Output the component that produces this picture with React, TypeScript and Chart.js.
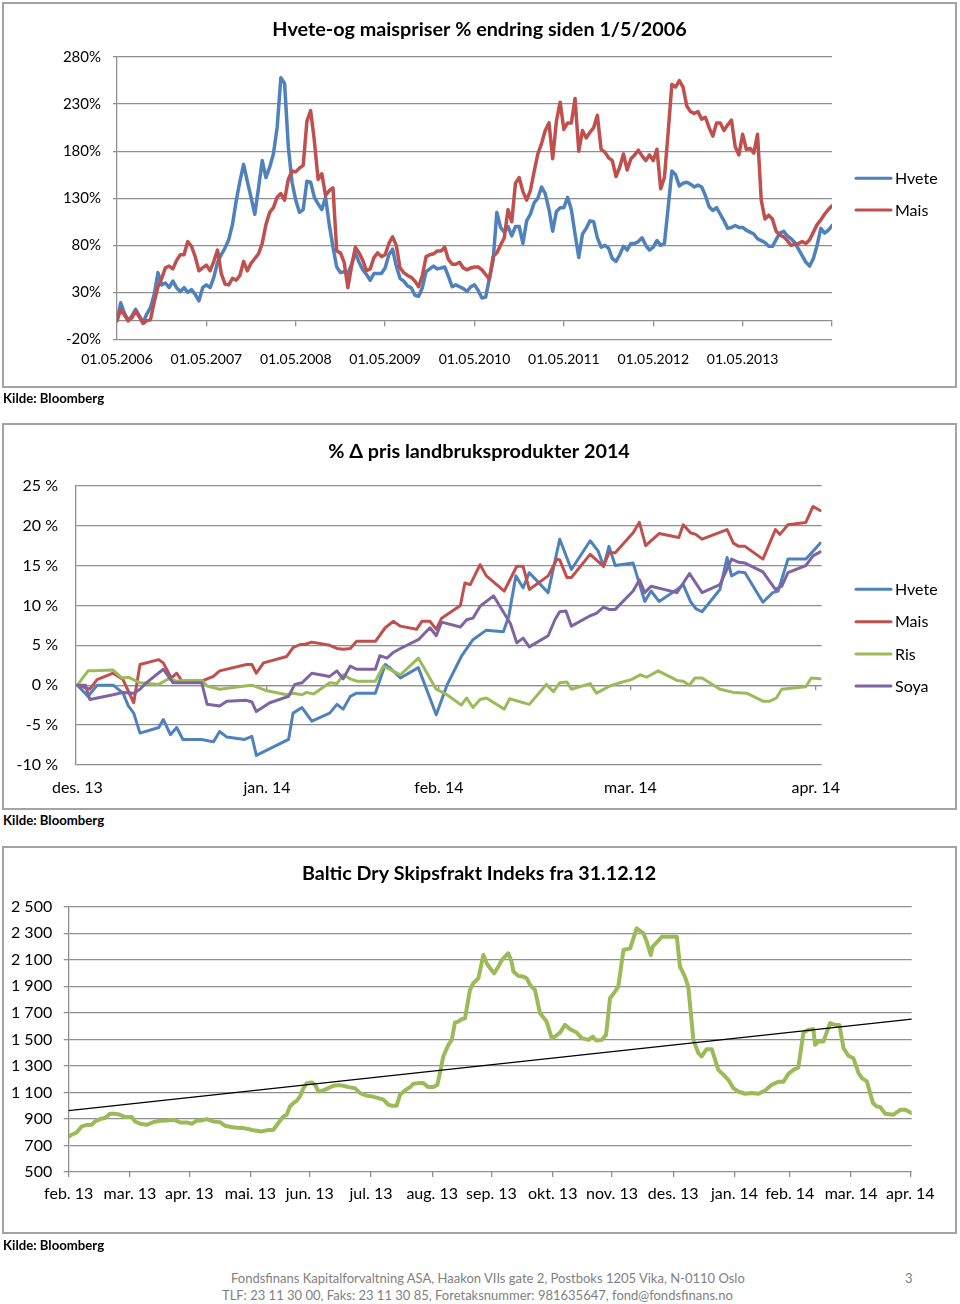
import React, { useEffect, useRef } from 'react';
import { Chart, registerables } from 'chart.js';

Chart.register(...registerables);

const FONT = 'Lato, "Open Sans", "DejaVu Sans", sans-serif';
const GRID = '#8f8f8f';
const BLUE = '#4F81BD';
const RED = '#C0504D';
const GREEN = '#9BBB59';
const PURPLE = '#8064A2';

// ---------- Chart 1: Hvete- og maispriser (% endring siden 1/5/2006), half-month steps ----------
const priceTitle = 'Hvete-og maispriser % endring siden 1/5/2006';
const priceYearLabels = ['01.05.2006', '01.05.2007', '01.05.2008', '01.05.2009', '01.05.2010', '01.05.2011', '01.05.2012', '01.05.2013', ''];
const priceYearMonths = [0, 12, 24, 36, 48, 60, 72, 84, 96];
const priceYTicks = [-20, 30, 80, 130, 180, 230, 280];
const priceStepMonths = 0.5;
const hvetePct = [
  0, 19, 8, 0, 5, 12, 5, -2, 7, 14, 28, 51, 38, 40, 35, 42, 35, 31, 35, 30, 33, 28, 21, 35,
  38, 35, 46, 62, 70, 77, 86, 102, 127, 148, 166, 148, 131, 113, 141, 170, 152, 163, 177, 205, 258, 252, 185, 147,
  128, 115, 118, 148, 147, 131, 124, 118, 131, 102, 78, 57, 51, 52, 50, 60, 72, 62, 54, 49, 43, 50, 50, 50,
  56, 70, 76, 58, 45, 42, 37, 35, 27, 26, 35, 52, 55, 58, 55, 56, 57, 47, 36, 38, 36, 34, 31, 36,
  38, 32, 24, 25, 45, 64, 115, 99, 94, 100, 90, 100, 100, 82, 106, 113, 125, 130, 142, 135, 118, 95, 116, 120,
  120, 131, 118, 92, 67, 92, 98, 106, 105, 88, 78, 80, 77, 66, 63, 70, 79, 75, 82, 82, 84, 88, 80, 75,
  78, 85, 80, 82, 120, 159, 155, 143, 146, 147, 145, 142, 144, 142, 133, 121, 117, 120, 113, 106, 98, 99, 101, 99,
  99, 96, 94, 92, 87, 85, 83, 79, 79, 86, 93, 95, 90, 87, 83, 76, 69, 62, 58, 66, 80, 98, 93, 96, 101,
];
const maisPct = [
  0, 12, 6, 0, 3, 10, 4, -3, 0, 1, 20, 36, 45, 56, 58, 55, 64, 70, 70, 84, 79, 68, 53, 56,
  59, 53, 63, 75, 50, 39, 38, 45, 43, 48, 63, 53, 61, 66, 71, 82, 102, 115, 120, 131, 135, 128, 150, 159,
  158, 162, 165, 212, 223, 191, 150, 156, 133, 138, 141, 74, 72, 62, 35, 58, 78, 72, 64, 53, 55, 67, 72, 68,
  70, 82, 89, 80, 56, 51, 48, 46, 42, 36, 48, 68, 70, 71, 74, 74, 78, 65, 60, 60, 62, 56, 54, 56,
  57, 57, 54, 49, 44, 68, 72, 80, 88, 118, 105, 146, 152, 137, 128, 138, 158, 177, 188, 202, 210, 172, 212, 232,
  203, 210, 210, 236, 180, 202, 194, 200, 205, 218, 182, 179, 173, 170, 153, 163, 177, 160, 172, 176, 181, 175, 170, 176,
  170, 182, 140, 152, 200, 251, 248, 255, 248, 228, 222, 220, 222, 214, 216, 205, 196, 210, 210, 202, 208, 213, 185, 176,
  198, 182, 183, 178, 198, 128, 108, 112, 108, 95, 91, 89, 85, 80, 81, 82, 84, 82, 86, 94, 102, 107, 113, 118, 122,
];

// ---------- Chart 2: % endring pris landbruksprodukter 2014 (x = handelsdag) ----------
const cropTitle = '% \u0394 pris landbruksprodukter 2014';
const cropMonthLabels = ['des. 13', 'jan. 14', 'feb. 14', 'mar. 14', 'apr. 14'];
const cropMonthDays = [0, 21.2, 40.4, 61.8, 82.5];
const cropYTicks = [-10, -5, 0, 5, 10, 15, 20, 25];
const hveteDay = [0, 1.2, 2.2, 4.0, 5.1, 5.7, 6.3, 7.0, 9.1, 9.6, 10.4, 11.1, 11.8, 13.9, 15.2, 15.9, 16.7, 18.7, 19.5, 20.0, 23.6, 24.1, 25.1, 26.2, 28.2, 29.0, 29.7, 30.5, 31.2, 33.3, 34.4, 34.9, 36.1, 38.1, 40.1, 41.3, 42.9, 44.2, 45.7, 47.6, 48.2, 49.0, 49.8, 50.5, 52.6, 53.9, 55.2, 57.3, 58.2, 58.8, 59.4, 60.1, 62.1, 63.4, 64.1, 65.0, 67.0, 67.7, 68.5, 69.1, 69.8, 71.8, 72.6, 73.1, 73.9, 74.6, 76.6, 77.7, 78.3, 79.4, 81.4, 82.2, 83.0];
const hveteChg = [0, -1.4, 0, 0, -1.0, -2.6, -3.5, -6.0, -5.3, -4.3, -6.2, -5.3, -6.8, -6.8, -7.1, -5.8, -6.5, -6.8, -6.4, -8.8, -6.8, -3.5, -2.8, -4.5, -3.5, -2.4, -3.0, -1.4, -1.0, -1.0, 2.6, 2.2, 0.9, 2.2, -3.7, 0, 3.6, 5.7, 6.9, 6.7, 8.6, 13.7, 12.2, 14.1, 11.6, 18.3, 14.5, 18.1, 16.8, 14.9, 17.4, 15.0, 15.3, 10.5, 11.8, 10.5, 12.0, 12.6, 10.5, 9.6, 9.2, 12.0, 16.0, 13.7, 14.2, 14.1, 10.4, 11.6, 11.8, 15.8, 15.8, 16.8, 17.8];
const maisDay = [0, 1.4, 2.2, 4.0, 5.1, 6.3, 7.0, 9.1, 9.6, 10.5, 11.1, 11.7, 13.9, 15.2, 15.9, 18.9, 19.5, 20.0, 20.8, 23.4, 24.1, 24.9, 25.4, 26.2, 28.2, 29.0, 29.7, 30.5, 31.2, 33.3, 34.4, 35.3, 36.1, 37.9, 38.5, 39.4, 40.1, 40.7, 42.8, 43.3, 43.9, 45.0, 45.7, 47.7, 49.1, 49.8, 50.5, 52.6, 53.6, 53.9, 54.7, 55.2, 57.3, 58.8, 59.4, 60.1, 62.1, 62.8, 63.5, 65.0, 67.2, 67.7, 68.5, 69.1, 69.8, 72.6, 73.3, 73.9, 74.6, 76.6, 78.0, 78.5, 79.4, 81.4, 82.2, 83.0];
const maisChg = [0, -0.5, 0.7, 1.5, 0.7, -2.2, 2.6, 3.2, 2.8, 0.9, 1.5, 0.5, 0.5, 1.1, 1.8, 2.6, 2.6, 1.5, 2.8, 3.6, 4.7, 5.1, 5.1, 5.4, 5.0, 4.6, 4.5, 4.6, 5.5, 5.5, 7.2, 8.0, 7.4, 7.0, 8.0, 8.0, 7.0, 8.4, 10.0, 12.8, 12.6, 15.1, 13.7, 11.8, 14.9, 14.9, 12.0, 13.7, 15.8, 15.7, 13.5, 13.5, 16.4, 14.9, 16.6, 16.6, 19.1, 20.4, 17.5, 19.0, 18.5, 20.1, 19.1, 18.9, 18.3, 19.5, 17.8, 17.4, 17.4, 15.8, 19.5, 18.9, 20.1, 20.4, 22.4, 21.9];
const risDay = [0, 1.2, 1.8, 4.0, 5.0, 5.7, 7.0, 9.1, 10.2, 11.1, 11.8, 13.9, 14.5, 15.9, 17.4, 18.7, 19.5, 21.2, 23.4, 24.1, 25.1, 25.6, 26.4, 28.2, 29.0, 29.7, 30.5, 31.2, 33.3, 34.2, 36.1, 38.1, 40.1, 41.3, 42.9, 43.5, 44.2, 45.0, 45.7, 47.7, 48.3, 50.5, 52.4, 53.2, 53.9, 54.7, 55.2, 57.3, 58.0, 59.5, 60.6, 61.9, 62.9, 63.6, 64.9, 67.0, 67.7, 68.4, 69.0, 69.8, 71.8, 73.3, 74.8, 76.6, 77.4, 78.1, 78.7, 81.4, 82.0, 83.0];
const risChg = [0, 1.8, 1.8, 1.9, 0.9, 1.0, 0.3, 0.1, 0.8, 0.5, 0.6, 0.6, -0.1, -0.5, -0.3, -0.1, 0, -0.7, -1.2, -1.0, -1.2, -0.9, -1.1, 0.3, 0.2, 1.3, 0.8, 0.5, 0.5, 2.4, 1.3, 3.4, -0.5, -1.2, -2.5, -1.6, -2.8, -1.8, -1.6, -3.0, -1.7, -2.4, 0.1, -0.8, 0.3, 0.4, -0.5, 0.2, -1.0, -0.1, 0.3, 0.7, 1.3, 1.0, 1.8, 0.6, 0.5, 0, 0.9, 0.9, -0.5, -0.9, -1.0, -2.0, -2.0, -1.6, -0.5, -0.2, 0.9, 0.8];
const soyaDay = [0, 0.9, 1.4, 4.0, 5.1, 6.3, 7.0, 7.7, 9.6, 10.7, 11.7, 13.9, 14.5, 15.9, 16.7, 18.9, 19.5, 20.0, 21.5, 23.6, 24.3, 25.1, 26.2, 28.2, 29.0, 29.7, 30.5, 31.2, 33.3, 33.8, 34.6, 35.3, 36.1, 38.1, 39.4, 40.1, 40.7, 42.8, 43.5, 44.2, 45.0, 46.5, 48.4, 49.1, 49.8, 50.5, 52.6, 53.4, 53.9, 54.6, 55.2, 57.3, 58.0, 58.8, 59.4, 60.1, 62.1, 62.8, 63.4, 64.1, 67.0, 68.4, 69.8, 71.8, 73.1, 73.9, 74.6, 76.6, 78.0, 78.7, 79.4, 81.4, 82.2, 83.0];
const soyaChg = [0, 0, -1.8, -1.2, -0.9, -1.0, -0.5, 0.3, 2.0, 0.3, 0.3, 0.3, -2.4, -2.6, -2.0, -1.9, -2.1, -3.3, -2.2, -1.4, 0.1, 0.3, 1.5, 1.1, 1.8, 0.8, 2.4, 2.0, 2.0, 3.7, 3.4, 4.1, 4.6, 5.7, 7.2, 6.2, 7.9, 7.3, 8.2, 8.4, 9.9, 11.2, 7.7, 5.3, 5.9, 4.8, 6.2, 8.3, 9.2, 9.3, 7.4, 8.7, 9.0, 9.8, 9.5, 9.5, 11.8, 13.2, 11.6, 12.4, 11.6, 14.0, 11.6, 12.6, 15.8, 15.4, 15.3, 14.2, 12.0, 12.4, 14.1, 15.0, 16.2, 16.7];

// ---------- Chart 3: Baltic Dry Index (x = dager etter 28.02.2013) ----------
const bdiTitle = 'Baltic Dry Skipsfrakt Indeks fra 31.12.12';
const bdiMonthLabels = ['feb. 13', 'mar. 13', 'apr. 13', 'mai. 13', 'jun. 13', 'jul. 13', 'aug. 13', 'sep. 13', 'okt. 13', 'nov. 13', 'des. 13', 'jan. 14', 'feb. 14', 'mar. 14', 'apr. 14'];
const bdiMonthDays = [0, 31, 61, 92, 122, 153, 184, 214, 245, 275, 306, 337, 365, 396, 426];
const bdiYTicks = [500, 700, 900, 1100, 1300, 1500, 1700, 1900, 2100, 2300, 2500];
const bdiDay = [0, 1.5, 4.0, 6.6, 8.8, 11.6, 13.3, 15.9, 18.4, 20.9, 23.5, 26.0, 28.5, 31.9, 33.6, 36.1, 39.5, 42.9, 46.2, 49.6, 53.0, 56.4, 59.7, 62.3, 64.8, 67.3, 69.9, 73.2, 76.6, 79.0, 82.4, 85.0, 88.4, 90.9, 93.5, 97.7, 100.2, 103.6, 106.1, 108.7, 110.3, 112.0, 113.7, 115.4, 117.1, 118.8, 120.5, 123.0, 124.7, 126.4, 128.9, 131.4, 134.0, 136.5, 139.0, 141.6, 144.9, 147.5, 150.8, 153.4, 156.7, 159.3, 161.8, 163.5, 166.0, 167.7, 170.2, 172.8, 174.5, 177.0, 179.5, 182.0, 184.6, 186.6, 187.9, 189.6, 192.2, 193.9, 195.5, 197.2, 198.9, 200.6, 203.1, 204.8, 207.4, 209.9, 211.6, 213.3, 215.3, 217.5, 219.2, 222.5, 224.2, 225.1, 227.6, 230.1, 231.8, 233.5, 236.0, 238.6, 241.9, 244.5, 246.2, 248.7, 251.2, 253.8, 257.1, 259.7, 263.1, 265.3, 267.0, 269.8, 272.0, 274.0, 276.5, 278.2, 280.8, 284.2, 287.5, 290.9, 292.6, 294.6, 295.6, 298.5, 300.2, 302.7, 307.8, 309.4, 311.9, 313.6, 316.2, 318.7, 320.4, 322.9, 325.5, 328.8, 331.4, 333.9, 336.4, 338.9, 342.3, 345.7, 349.1, 352.5, 355.8, 359.2, 361.7, 364.3, 366.8, 369.3, 371.9, 374.4, 376.9, 377.8, 379.5, 382.0, 385.4, 387.9, 390.1, 392.2, 394.7, 397.2, 399.8, 401.5, 404.0, 407.1, 409.1, 410.8, 413.3, 417.5, 420.9, 423.4, 426.7];
const bdiValue = [768, 781, 798, 844, 854, 856, 881, 899, 907, 939, 939, 932, 914, 914, 881, 864, 856, 876, 886, 889, 894, 874, 874, 864, 886, 889, 899, 881, 876, 849, 839, 834, 831, 824, 814, 806, 814, 819, 869, 919, 932, 994, 1019, 1037, 1070, 1132, 1170, 1175, 1157, 1107, 1115, 1132, 1150, 1155, 1150, 1140, 1132, 1095, 1075, 1070, 1057, 1045, 1007, 1000, 1000, 1082, 1115, 1140, 1165, 1170, 1170, 1140, 1140, 1157, 1245, 1371, 1459, 1496, 1627, 1634, 1652, 1659, 1873, 1923, 1961, 2136, 2073, 2036, 1998, 2048, 2098, 2149, 2086, 2011, 1978, 1973, 1961, 1910, 1873, 1697, 1634, 1509, 1521, 1551, 1609, 1576, 1551, 1509, 1496, 1521, 1491, 1496, 1534, 1810, 1860, 1898, 2174, 2186, 2337, 2299, 2236, 2136, 2199, 2244, 2274, 2274, 2274, 2048, 1973, 1898, 1496, 1396, 1371, 1426, 1426, 1270, 1233, 1195, 1132, 1107, 1090, 1095, 1090, 1115, 1157, 1180, 1180, 1240, 1270, 1288, 1551, 1572, 1577, 1459, 1484, 1484, 1622, 1609, 1609, 1433, 1376, 1358, 1245, 1208, 1183, 1019, 994, 989, 939, 932, 969, 969, 944];
const trendDay = [0, 426.7];
const trendValue = [962, 1652];

const pts = (xs: number[], ys: number[]) => xs.map((x, i) => ({ x, y: ys[i] }));

const overlayPlugin = {
  id: 'overlay',
  afterDraw(chart: any, _args: any, opts: any) {
    const ctx = chart.ctx;
    ctx.save();
    (opts.texts || []).forEach((t: any) => {
      ctx.font = t.font;
      ctx.fillStyle = t.color || '#000';
      ctx.textAlign = t.align || 'center';
      ctx.textBaseline = 'middle';
      ctx.fillText(t.text, t.x, t.y);
    });
    (opts.legend || []).forEach((l: any) => {
      ctx.strokeStyle = l.color;
      ctx.lineWidth = 3;
      ctx.lineCap = 'round';
      ctx.beginPath();
      ctx.moveTo(l.x1, l.y);
      ctx.lineTo(l.x2, l.y);
      ctx.stroke();
      ctx.font = '16px ' + FONT;
      ctx.fillStyle = '#000';
      ctx.textAlign = 'left';
      ctx.textBaseline = 'middle';
      ctx.fillText(l.label, l.tx, l.y + 0.5);
    });
    ctx.restore();
  },
};

function yScale(o: any) {
  return {
    type: 'linear',
    position: 'left',
    min: o.min,
    max: o.max,
    afterBuildTicks: (s: any) => { s.ticks = o.ticks.map((v: number) => ({ value: v })); },
    afterFit: (s: any) => { s.width = o.width; },
    ticks: { callback: o.fmt, font: { family: FONT, size: o.size }, color: '#000', padding: o.padding },
    grid: { color: GRID, lineWidth: 1.3, drawTicks: o.tickLen > 0, tickLength: o.tickLen },
    border: { display: true, color: GRID, width: 1.3 },
  };
}

function xLabelScale(o: any) {
  return {
    type: 'linear',
    position: 'bottom',
    min: o.min,
    max: o.max,
    afterBuildTicks: (s: any) => { s.ticks = o.ticks.map((v: number) => ({ value: v })); },
    afterFit: (s: any) => { s.height = o.height; },
    ticks: {
      callback: (_v: any, i: number) => o.labels[i],
      autoSkip: false, maxRotation: 0, minRotation: 0,
      font: { family: FONT, size: o.size }, color: '#000', padding: o.padding,
    },
    grid: { display: o.tickLen > 0, drawOnChartArea: false, drawTicks: o.tickLen > 0, tickLength: o.tickLen, color: GRID, lineWidth: 1.3 },
    border: { display: false },
  };
}

function zeroAxis(o: any) {
  return {
    type: 'linear',
    axis: 'x',
    position: { y: 0 },
    min: o.min,
    max: o.max,
    afterBuildTicks: (s: any) => { s.ticks = o.ticks.map((v: number) => ({ value: v })); },
    ticks: { display: false },
    grid: { drawOnChartArea: false, drawTicks: true, tickLength: o.len, color: GRID, lineWidth: 1.3 },
    border: { display: true, color: GRID, width: 1.3 },
  };
}

function line(label: string, data: any[], color: string, width: number) {
  return {
    label, data, borderColor: color, backgroundColor: color, borderWidth: width,
    pointRadius: 0, fill: false, tension: 0, borderJoinStyle: 'round', borderCapStyle: 'round',
    xAxisID: 'x', yAxisID: 'y',
  };
}

function baseOptions(padding: any, scales: any, overlay: any) {
  return {
    animation: false,
    responsive: false,
    devicePixelRatio: 1,
    events: [],
    layout: { padding },
    plugins: { legend: { display: false }, tooltip: { enabled: false }, title: { display: false }, overlay },
    scales,
  };
}

function makePriceChart(): any {
  const H = 392;
  return {
    type: 'line',
    data: {
      datasets: [
        line('Mais', maisPct.map((v, i) => ({ x: i * priceStepMonths, y: v })), RED, 3.5),
        line('Hvete', hvetePct.map((v, i) => ({ x: i * priceStepMonths, y: v })), BLUE, 3.5),
      ],
    },
    options: baseOptions(
      { left: 0, right: 128, top: 57, bottom: 0 },
      {
        x: xLabelScale({ min: 0, max: 96, ticks: priceYearMonths, labels: priceYearLabels, height: H - 339.5, size: 14, padding: 12, tickLen: 0 }),
        xZero: zeroAxis({ min: 0, max: 96, ticks: priceYearMonths.slice(1), len: 5 }),
        y: yScale({ min: -20, max: 280, ticks: priceYTicks, fmt: (v: number) => v + '%', width: 117, size: 15, padding: 12, tickLen: 4 }),
      },
      {
        texts: [{ text: priceTitle, x: 479.5, y: 30, font: 'bold 19.8px ' + FONT }],
        legend: [
          { label: 'Hvete', color: BLUE, x1: 856, x2: 891, tx: 895, y: 178.3 },
          { label: 'Mais', color: RED, x1: 856, x2: 891, tx: 895, y: 210 },
        ],
      },
    ),
  };
}

function makeCropChart(): any {
  const top = 416;
  const H = 396;
  return {
    type: 'line',
    data: {
      datasets: [
        line('Soya', pts(soyaDay, soyaChg), PURPLE, 3),
        line('Ris', pts(risDay, risChg), GREEN, 3),
        line('Mais', pts(maisDay, maisChg), RED, 3),
        line('Hvete', pts(hveteDay, hveteChg), BLUE, 3),
      ],
    },
    options: baseOptions(
      { left: 0, right: 960 - 821.7, top: 485.7 - top, bottom: 0 },
      {
        x: xLabelScale({ min: -0.15, max: 83.17, ticks: cropMonthDays, labels: cropMonthLabels, height: H - (765 - top), size: 16, padding: 13, tickLen: 0 }),
        xZero: zeroAxis({ min: -0.15, max: 83.17, ticks: cropMonthDays.slice(1), len: 4 }),
        y: yScale({ min: -10, max: 25, ticks: cropYTicks, fmt: (v: number) => v + ' %', width: 76, size: 16, padding: 18, tickLen: 0 }),
      },
      {
        texts: [{ text: cropTitle, x: 479, y: 451.7 - top, font: 'bold 19.8px ' + FONT }],
        legend: [
          { label: 'Hvete', color: BLUE, x1: 856, x2: 891, tx: 895, y: 589.3 - top },
          { label: 'Mais', color: RED, x1: 856, x2: 891, tx: 895, y: 621.7 - top },
          { label: 'Ris', color: GREEN, x1: 856, x2: 891, tx: 895, y: 654 - top },
          { label: 'Soya', color: PURPLE, x1: 856, x2: 891, tx: 895, y: 686 - top },
        ],
      },
    ),
  };
}

function fmtThousands(v: number) {
  if (v < 1000) return String(v);
  const th = Math.floor(v / 1000);
  const rest = String(v % 1000).padStart(3, '0');
  return th + ' ' + rest;
}

function makeBdiChart(): any {
  const top = 843;
  const H = 395;
  return {
    type: 'line',
    data: {
      datasets: [
        line('Trend', pts(trendDay, trendValue), '#000000', 1.2),
        line('BDI', pts(bdiDay, bdiValue), GREEN, 4),
      ],
    },
    options: baseOptions(
      { left: 0, right: 960 - 911.7, top: 906.7 - top, bottom: 0 },
      {
        x: xLabelScale({ min: 0, max: 426.7, ticks: bdiMonthDays, labels: bdiMonthLabels, height: H - (1172 - top), size: 16, padding: 7, tickLen: 5 }),
        y: yScale({ min: 500, max: 2500, ticks: bdiYTicks, fmt: fmtThousands, width: 68.7, size: 16, padding: 11.5, tickLen: 5 }),
      },
      {
        texts: [{ text: bdiTitle, x: 479, y: 873.3 - top, font: 'bold 19.7px ' + FONT }],
      },
    ),
  };
}

function ChartCanvas({ top, height, make }: { top: number; height: number; make: () => any }) {
  const ref = useRef<HTMLCanvasElement>(null);
  useEffect(() => {
    const chart = new Chart(ref.current as HTMLCanvasElement, { ...make(), plugins: [overlayPlugin] });
    return () => chart.destroy();
  }, []);
  return (
    <canvas
      ref={ref}
      width={960}
      height={height}
      style={{ position: 'absolute', left: 0, top, width: 960, height, display: 'block' }}
    />
  );
}

const boxStyle = (top: number, height: number): React.CSSProperties => ({
  position: 'absolute', left: 2, top, width: 955, height, border: '2px solid #a3a3a3', boxSizing: 'border-box', pointerEvents: 'none',
});

const kildeStyle = (centerY: number): React.CSSProperties => ({
  position: 'absolute', left: 3, top: centerY - 8, height: 16, lineHeight: '16px',
  fontFamily: FONT, fontWeight: 'bold', fontSize: 13.2, color: '#000', whiteSpace: 'nowrap',
});

const footStyle = (left: number, centerY: number): React.CSSProperties => ({
  position: 'absolute', left, top: centerY - 8, height: 16, lineHeight: '16px',
  fontFamily: FONT, fontSize: 13, color: '#7f7f7f', whiteSpace: 'nowrap',
});

export default function App() {
  return (
    <div style={{ position: 'absolute', left: 0, top: 0, width: 960, height: 1304, background: '#fff', overflow: 'hidden' }}>
      <ChartCanvas top={0} height={392} make={makePriceChart} />
      <ChartCanvas top={416} height={396} make={makeCropChart} />
      <ChartCanvas top={843} height={395} make={makeBdiChart} />
      <div style={boxStyle(2, 386)} />
      <div style={boxStyle(423, 387)} />
      <div style={boxStyle(846, 388)} />
      <div style={kildeStyle(397.5)}>Kilde: Bloomberg</div>
      <div style={kildeStyle(820)}>Kilde: Bloomberg</div>
      <div style={kildeStyle(1245)}>Kilde: Bloomberg</div>
      <div style={footStyle(231, 1278)}>Fondsfinans Kapitalforvaltning ASA, Haakon VIIs gate 2, Postboks 1205 Vika, N-0110 Oslo</div>
      <div style={footStyle(222, 1295)}>TLF: 23 11 30 00, Faks: 23 11 30 85, Foretaksnummer: 981635647, fond@fondsfinans.no</div>
      <div style={footStyle(905, 1278)}>3</div>
    </div>
  );
}
